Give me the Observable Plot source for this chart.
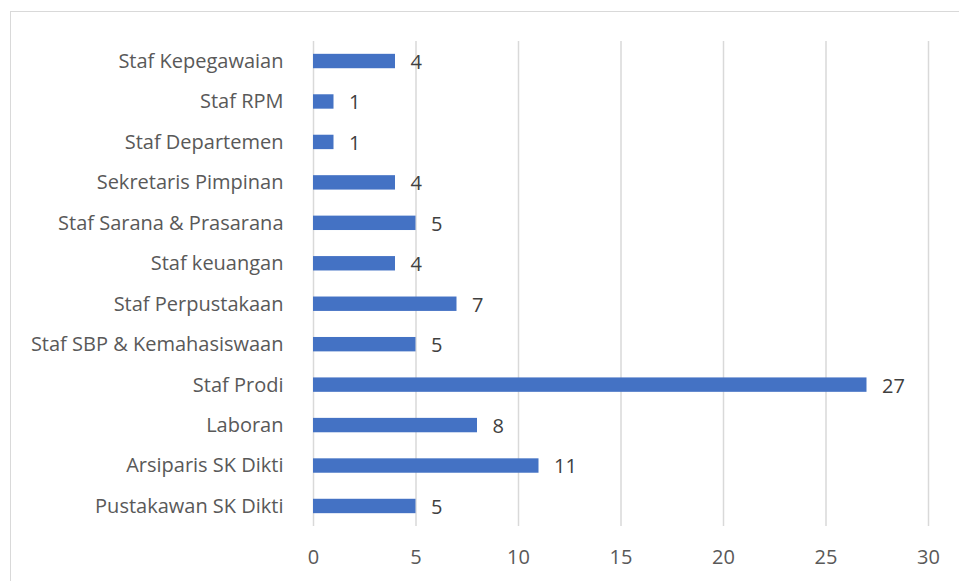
<!DOCTYPE html>
<html>
<head>
<meta charset="utf-8">
<script src="https://cdn.jsdelivr.net/npm/d3@7"></script>
<script src="https://cdn.jsdelivr.net/npm/@observablehq/plot@0.6"></script>
<style>
  html, body { margin: 0; padding: 0; background: #fff; overflow: hidden; }
  #wrap { position: relative; width: 959px; height: 581px; }
  #frame { position: absolute; left: 10px; top: 11px; width: 1000px; height: 1000px; border: 1px solid #d9d9d9; box-sizing: border-box; }
  #chart { position: absolute; left: 0; top: 0; }
</style>
</head>
<body>
<div id="wrap"><div id="frame"></div><div id="chart"></div></div>
<script>
const categories = [
  "Staf Kepegawaian",
  "Staf RPM",
  "Staf Departemen",
  "Sekretaris Pimpinan",
  "Staf Sarana & Prasarana",
  "Staf keuangan",
  "Staf Perpustakaan",
  "Staf SBP & Kemahasiswaan",
  "Staf Prodi",
  "Laboran",
  "Arsiparis SK Dikti",
  "Pustakawan SK Dikti"
];
const values = [4, 1, 1, 4, 5, 4, 7, 5, 27, 8, 11, 5];
const xTicks = [0, 5, 10, 15, 20, 25, 30];

const data = categories.map((c, i) => ({category: c, value: values[i]}));

const chart = Plot.plot({
  width: 959,
  height: 581,
  marginLeft: 313,
  marginRight: 31,
  marginTop: 41,
  marginBottom: 55,
  style: {fontFamily: "'Open Sans', sans-serif", fontSize: "20px", color: "#595959", background: "transparent"},
  x: {domain: [0, 30], ticks: xTicks, tickSize: 0, tickPadding: 23, label: null},
  y: {domain: categories, paddingInner: 0.644, paddingOuter: 0.317, round: false, tickSize: 0, tickPadding: 30, label: null},
  marks: [
    Plot.ruleX(xTicks, {stroke: "#d9d9d9", strokeWidth: 1.5}),
    Plot.barX(data, {x: "value", y: "category", fill: "#4472C4"}),
    Plot.text(data, {x: "value", y: "category", text: d => String(d.value), textAnchor: "start", dx: 15, dy: 1, fill: "#404040", fontSize: 20})
  ]
});
document.getElementById("chart").appendChild(chart);
</script>
</body>
</html>
